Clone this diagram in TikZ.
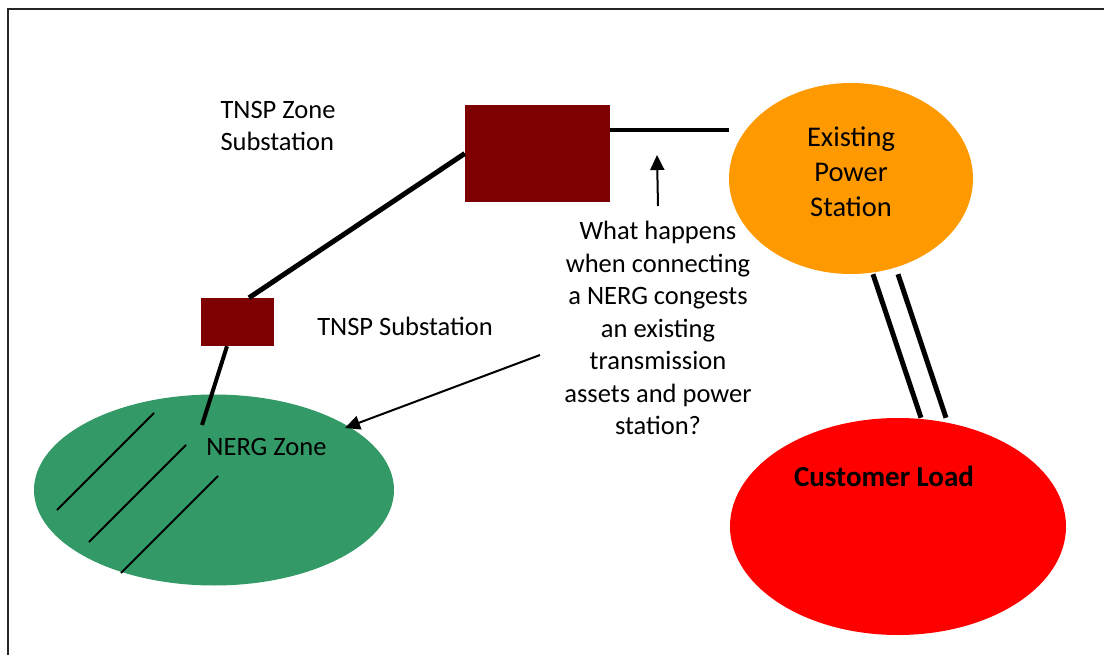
\documentclass[tikz,border=0pt]{standalone}
\usepackage{fontspec}
\setmainfont{Carlito}
\usetikzlibrary{shapes.geometric,arrows.meta,positioning}
\definecolor{subred}{HTML}{7F0000}
\definecolor{nerggreen}{HTML}{339966}
\definecolor{stationorange}{HTML}{FF9900}
\definecolor{loadred}{HTML}{FF0000}
\tikzset{
  substation/.style={fill=subred, inner sep=0pt},
  zone/.style={ellipse, inner sep=0pt},
  label/.style={inner sep=0pt, align=center},
  wire/.style={line width=5pt},
  hatch/.style={line width=2pt},
  pointer/.style={line width=2pt, -{Triangle[length=15pt,width=14pt]}}
}
\begin{document}
\begin{tikzpicture}[x=1pt, y=-1pt, font=\fontsize{26.5}{32.5}\selectfont]
\useasboundingbox (0,0) rectangle (1104,655);
\draw[line width=2pt, black!85] (1104,9) -- (8,9) -- (8,655);
% zones
\node[zone, fill=nerggreen, minimum width=360pt, minimum height=191pt] (nerg) at (214,490) {};
\node[zone, fill=stationorange, minimum width=244pt, minimum height=191pt] (station) at (851,178.5) {};
\node[zone, fill=loadred, minimum width=336pt, minimum height=217pt] (load) at (898,526.5) {};
\foreach \x/\y in {57/510, 89/542, 121/573}
  \draw[hatch] (\x,\y) -- ++(97,-97);
% substations
\node[substation, minimum width=145pt, minimum height=97pt] (zonesub) at (537.5,153.5) {};
\node[substation, minimum width=73pt, minimum height=48pt] (sub) at (237.5,322) {};
% labels
\node[label, align=left] (zonesublbl) at (278,126) {TNSP Zone\\Substation};
\node[label] (sublbl) at (405,326) {TNSP Substation};
\node[label] (nerglbl) at (266.5,447) {NERG Zone};
\node[label, font=\fontsize{28.5}{35}\selectfont] (stationlbl) at (851,172) {Existing\\Power\\Station};
\node[label, font=\fontsize{29}{35}\selectfont\bfseries] (loadlbl) at (884,476) {Customer Load};
\node[label] (question) at (658,328) {What happens\\when connecting\\a NERG congests\\an existing\\transmission\\assets and power\\station?};
% lines
\coordinate (nergtap) at (202,425);
\coordinate (stationtap) at (729,130);
\coordinate (linemark) at (657,155);
\coordinate (asktail) at (540,355);
\coordinate (nergmark) at (345,428);
\draw[wire] (zonesub.west) -- ([xshift=11.5pt]sub.north);
\draw[wire, line width=4pt] ([xshift=-10.5pt]sub.south) -- (nergtap);
\draw[wire, line width=4pt] ([yshift=23.5pt]zonesub.east) -- (stationtap);
\draw[wire] ([xshift=22pt]station.south) -- ([xshift=23pt]load.north);
\draw[wire] ([xshift=47pt]station.south) -- ([xshift=48pt]load.north);
\draw[pointer] ([yshift=15pt]question.north) -- (linemark);
\draw[pointer] (asktail) -- (nergmark);
\end{tikzpicture}
\end{document}
